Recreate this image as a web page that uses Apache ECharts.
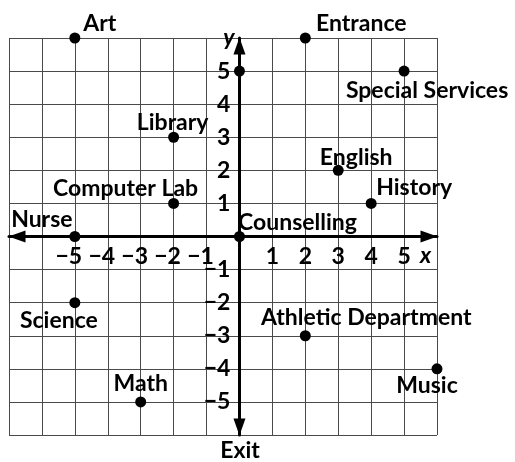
<!DOCTYPE html>
<html>
<head>
<meta charset="utf-8">
<script src="https://cdn.jsdelivr.net/npm/echarts@6/dist/echarts.min.js"></script>
<style>
  html, body { margin: 0; padding: 0; background: #fff; }
  #chart { width: 515px; height: 462px; }
</style>
</head>
<body>
<div id="chart"></div>
<script>
// places on the school map (x, y)
const placeNames = ['Art', 'Entrance', '', 'Special Services', 'Library', 'English', 'Computer Lab', 'History',
  'Nurse', 'Counselling', 'Science', 'Athletic Department', 'Music', 'Math']
const placeX = [-5, 2, 0, 5, -2, 3, -2, 4, -5, 0, -5, 2, 6, -3]
const placeY = [6, 6, 5, 5, 3, 2, 1, 1, 0, 0, -2, -3, -4, -5]
const xTicks = [-5, -4, -3, -2, -1, 1, 2, 3, 4, 5]
const yTicks = [-5, -4, -3, -2, -1, 1, 2, 3, 4, 5]

// label placement (pixel offset of label centre from the dot)
const labelOffset = {
  'Art': [25, -14],
  'Entrance': [56, -14],
  'Special Services': [23, 19],
  'Library': [-1, -15],
  'English': [18, -13],
  'Computer Lab': [-48, -15],
  'History': [43, -16],
  'Nurse': [-33, -17],
  'Counselling': [58, -14],
  'Science': [-16, 18],
  'Athletic Department': [61, -18],
  'Music': [-10, 17],
  'Math': [0, -18]
}

const FONT = 'Lato'
const FS = 23
const GRID = { left: 9, right: 78, top: 38, bottom: 27 }
const chart = echarts.init(document.getElementById('chart'))

const points = placeNames.map((name, i) => ({
  name,
  value: [placeX[i], placeY[i]],
  label: {
    show: !!name,
    position: 'inside',
    offset: labelOffset[name] || [0, 0]
  }
}))

function tickLabel(v, ticks, centreDigit) {
  if (!ticks.includes(v)) return ''
  if (v < 0) return centreDigit ? '{t|−' + (-v) + '}{p|}' : '{t|−' + (-v) + '}'
  return '{t|' + v + '}'
}

const labelRich = {
  t: { fontFamily: FONT, fontWeight: 'bold', fontSize: FS, color: '#000' },
  p: { width: 12 }
}

const axisLine = {
  onZero: false,
  symbol: ['triangle', 'triangle'],
  symbolSize: [12, 17],
  symbolOffset: [8, -8],
  lineStyle: { color: '#000', width: 3 }
}

chart.setOption({
  animation: false,
  grid: { ...GRID, containLabel: false, outerBoundsMode: 'none' },
  xAxis: {
    type: 'value',
    min: -7,
    max: 6,
    interval: 1,
    position: 'bottom',
    name: 'x',
    nameLocation: 'end',
    nameGap: -17,
    nameTextStyle: {
      fontFamily: FONT, fontStyle: 'italic', fontWeight: 'bold', fontSize: FS, color: '#000',
      verticalAlign: 'top', padding: [8, 0, 0, 0]
    },
    axisLine,
    axisTick: { show: false },
    splitLine: { show: true, lineStyle: { color: '#4a4a4a', width: 1 } },
    axisLabel: {
      margin: 9,
      formatter: (v) => tickLabel(v, xTicks, true),
      rich: labelRich
    }
  },
  yAxis: {
    type: 'value',
    min: -6,
    max: 6,
    interval: 1,
    position: 'left',
    name: 'y',
    nameLocation: 'end',
    nameGap: 0,
    nameTextStyle: {
      fontFamily: FONT, fontStyle: 'italic', fontWeight: 'bold', fontSize: FS, color: '#000',
      align: 'right', verticalAlign: 'middle', padding: [0, 5, 4, 0]
    },
    axisLine,
    axisTick: { show: false },
    splitLine: { show: true, lineStyle: { color: '#4a4a4a', width: 1 } },
    axisLabel: {
      margin: 9,
      formatter: (v) => tickLabel(v, yTicks, false),
      rich: labelRich
    }
  },
  graphic: [
    {
      type: 'text',
      x: 240,
      y: 451,
      style: {
        text: 'Exit', fontFamily: FONT, fontWeight: 'bold', fontSize: FS, fill: '#000',
        align: 'center', verticalAlign: 'middle'
      }
    }
  ],
  series: [
    {
      type: 'scatter',
      symbol: 'circle',
      symbolSize: 11,
      itemStyle: { color: '#000', opacity: 1 },
      label: {
        formatter: '{b}',
        color: '#000',
        fontFamily: FONT,
        fontWeight: 'bold',
        fontSize: FS
      },
      data: points,
      z: 5
    }
  ]
})

// move both axes (line, labels, arrows) onto the origin
const origin = chart.convertToPixel({ gridIndex: 0 }, [0, 0])
const gridBottom = 462 - GRID.bottom
chart.setOption({
  xAxis: { offset: -(gridBottom - origin[1]) },
  yAxis: { offset: -(origin[0] - GRID.left) }
})
</script>
</body>
</html>
